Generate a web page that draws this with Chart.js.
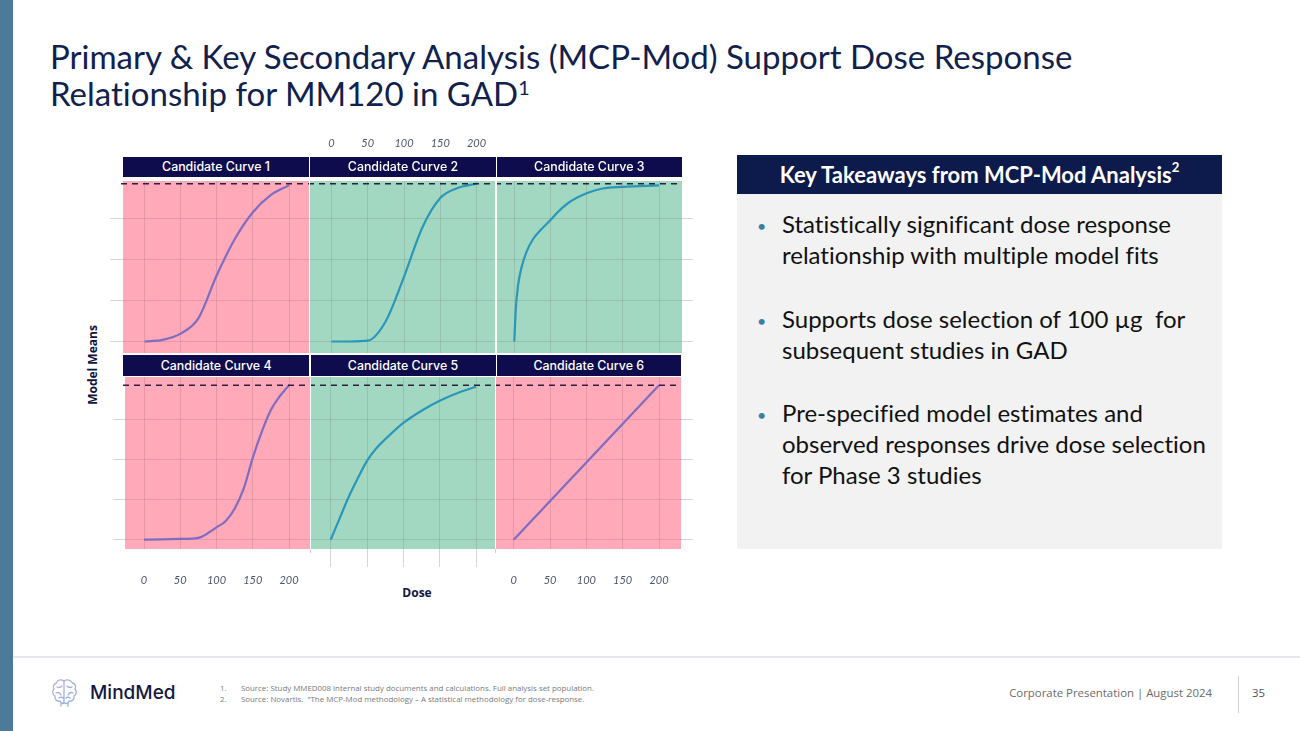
<!DOCTYPE html>
<html><head><meta charset="utf-8">
<script src="https://cdn.jsdelivr.net/npm/chart.js@4.4.1/dist/chart.umd.min.js"></script>
<style>
html,body{margin:0;padding:0}
body{width:1300px;height:731px;position:relative;background:#fff;overflow:hidden;font-family:'Lato',sans-serif;font-variant-ligatures:none}
.abs{position:absolute}
#leftbar{left:0;top:0;width:13px;height:731px;background:#4b7b99}
.title{left:50px;color:#10214d;font-size:33px;line-height:37px;white-space:nowrap}
.strip{background:#0f0c4d;color:#fff;font-family:'Inter',sans-serif;font-weight:500;font-size:12.4px;display:flex;align-items:center;justify-content:center;white-space:nowrap}
.pane{position:absolute}
.axtitle{color:#10133f;font-family:'Open Sans',sans-serif;font-weight:700;font-size:12px;white-space:nowrap}
#kthead{left:737px;top:155px;width:485px;height:39px;background:#0d1a4c;color:#fff;font-weight:700;font-size:22px;display:flex;align-items:center;justify-content:center;white-space:nowrap}
#ktbody{left:737px;top:194px;width:485px;height:355px;background:#f2f2f2}
.bul{left:782px;color:#111;font-size:24px;line-height:31px;white-space:nowrap}
.dot{left:757px;color:#3a7fa6;font-size:16px}
sup{font-size:60%;vertical-align:0;position:relative;top:-0.55em}
#footline{left:13px;top:656px;width:1287px;height:2px;background:#e6e7ea}
.fn{left:220px;font-size:7.9px;color:#7a7a7a;white-space:nowrap;font-family:'Open Sans',sans-serif}
.vdiv{width:1px;background:#d0d0d0}
</style></head><body>
<div id="leftbar" class="abs"></div>
<div class="abs title" style="top:38px">Primary &amp; Key Secondary Analysis (MCP-Mod) Support Dose Response</div>
<div class="abs title" style="top:75px">Relationship for MM120 in GAD<sup>1</sup></div>

<div id="panels"></div>
<div class="abs vdiv" style="left:310px;top:549px;height:4px"></div>
<div class="abs vdiv" style="left:495px;top:549px;height:4px"></div>
<div class="abs axtitle" style="left:92px;top:365px;transform:translate(-50%,-50%) rotate(-90deg)">Model Means</div>
<div class="abs axtitle" style="left:417px;top:592px;transform:translate(-50%,-50%)">Dose</div>

<div id="kthead" class="abs">Key Takeaways from MCP-Mod Analysis<sup>2</sup></div>
<div id="ktbody" class="abs"></div>
<div class="abs dot" style="top:216px">•</div>
<div class="abs bul" style="top:208px">Statistically significant dose response<br>relationship with multiple model fits</div>
<div class="abs dot" style="top:311px">•</div>
<div class="abs bul" style="top:303px">Supports dose selection of 100 µg&nbsp; for<br>subsequent studies in GAD</div>
<div class="abs dot" style="top:405px">•</div>
<div class="abs bul" style="top:397px">Pre-specified model estimates and<br>observed responses drive dose selection<br>for Phase 3 studies</div>

<div id="footline" class="abs"></div>
<svg class="abs" style="left:51px;top:678px" width="27" height="30" viewBox="0 0 27 30">
<defs><linearGradient id="g" x1="0" y1="0" x2="1" y2="1"><stop offset="0" stop-color="#c4a8e2"/><stop offset="1" stop-color="#7fb2e3"/></linearGradient></defs>
<g fill="none" stroke="url(#g)" stroke-width="1.3" stroke-linecap="round">
<path d="M13 3 C10 1 6 2 5.5 5 C2.5 5.5 1.5 9 3 11 C1 13 1.5 17 4 18 C3 21 6 24 9 23 C10 25.5 12 26 13 25"/>
<path d="M13 3 C16 1 20 2 21.5 5 C24.5 5.5 25.5 9 24 11 C26 13 25.5 17 23 18 C24 21 21 24 18 23 C17 25.5 15 26 14 25"/>
<path d="M13 3 V25 M6 9 C8 10 10 9 11 8 M21 9 C19 10 17 9 16 8 M5 15 C7 14 9 15 10 17 M22 15 C20 14 18 15 17 17 M8 20 C9 19 11 19 12 20 M19 20 C18 19 16 19 15 20"/>
<path d="M10 25 V28 M17 25 V28"/>
</g></svg>
<div class="abs" style="left:90px;top:681px;font-family:'Inter',sans-serif;font-weight:500;font-size:19px;color:#16193f">MindMed</div>
<div class="abs fn" style="top:683px">1.&nbsp;&nbsp;&nbsp;&nbsp;&nbsp;&nbsp;&nbsp;Source: Study MMED008 internal study documents and calculations. Full analysis set population.</div>
<div class="abs fn" style="top:694px">2.&nbsp;&nbsp;&nbsp;&nbsp;&nbsp;&nbsp;&nbsp;Source: Novartis.&nbsp; "The MCP-Mod methodology – A statistical methodology for dose-response.</div>
<div class="abs" style="right:88px;top:685px;font-family:'Open Sans',sans-serif;font-size:11.4px;color:#6b6b6b;white-space:nowrap">Corporate Presentation | August 2024</div>
<div class="abs" style="left:1238px;top:676px;width:1px;height:37px;background:#cfcfcf"></div>
<div class="abs" style="left:1252px;top:685px;font-family:'Open Sans',sans-serif;font-size:11.4px;color:#555">35</div>

<script>
// ---------- data ----------
const doseTicks = [0, 50, 100, 150, 200];
const meanGrid = [0, 0.26, 0.52, 0.78];
const targetMean = 1;
const curveTitles = ['Candidate Curve 1','Candidate Curve 2','Candidate Curve 3','Candidate Curve 4','Candidate Curve 5','Candidate Curve 6'];

const curve1Dose = [0, 25, 50, 75, 100, 125, 150, 175, 200];
const curve1Mean = [0, 0.01, 0.05, 0.15, 0.42, 0.65, 0.82, 0.93, 0.99];

const curve2Dose = [0, 25, 50, 75, 100, 125, 150, 175, 200];
const curve2Mean = [0, 0, 0.005, 0.13, 0.41, 0.72, 0.91, 0.975, 1.0];

const curve3Dose = [0, 2, 5, 10, 17, 26, 37, 50, 60, 75, 100, 122, 150, 200];
const curve3Mean = [0, 0.2, 0.35, 0.47, 0.57, 0.65, 0.71, 0.77, 0.82, 0.88, 0.94, 0.97, 0.98, 0.99];

const curve4Dose = [0, 25, 50, 75, 100, 112.5, 125, 137.5, 150, 162.5, 175, 187.5, 200];
const curve4Mean = [0, 0.002, 0.005, 0.012, 0.08, 0.12, 0.2, 0.33, 0.53, 0.7, 0.84, 0.93, 1.0];

const curve5Dose = [0, 12.5, 25, 37.5, 50, 62.5, 75, 100, 125, 150, 175, 200];
const curve5Mean = [0, 0.14, 0.28, 0.4, 0.51, 0.59, 0.65, 0.756, 0.835, 0.9, 0.95, 0.99];

const curve6Dose = [0, 200];
const curve6Mean = [0, 1];

const curveDoses = [curve1Dose, curve2Dose, curve3Dose, curve4Dose, curve5Dose, curve6Dose];
const curveMeans = [curve1Mean, curve2Mean, curve3Mean, curve4Mean, curve5Mean, curve6Mean];

// ---------- layout & style ----------
const PINK = '#ffa9b9', GREEN = '#a2d8c1', PURPLE = '#7e6dc1', TEAL = '#2a97b9';
const rows = [
  {top:180.5, bottom:352.5, zero:341, one:183.3, stripTop:156.5, stripH:20.5},
  {top:377.3, bottom:549.3, zero:540, one:385.5, stripTop:355, stripH:21}
];
// xTick: visible tick-mark length; xGap: invisible offset of labels from the panel
const panelLayout = [
  {row:0, left:123, right:309, x0:144.5, x200:289,   fill:PINK,  line:PURPLE, xPos:'bottom', xLab:false, xTick:0,  xGap:0,  xExt:0,  yPos:'left',  yTick:13},
  {row:0, left:310, right:495, x0:331.5, x200:476.5, fill:GREEN, line:TEAL,   xPos:'top',    xLab:true,  xTick:0,  xGap:31, xExt:46, yPos:'left',  yTick:0},
  {row:0, left:497, right:682, x0:514.3, x200:659,   fill:GREEN, line:TEAL,   xPos:'bottom', xLab:false, xTick:0,  xGap:0,  xExt:0,  yPos:'right', yTick:11},
  {row:1, left:125, right:310, x0:144,   x200:289,   fill:PINK,  line:PURPLE, xPos:'bottom', xLab:true,  xTick:0,  xGap:25, xExt:42, yPos:'left',  yTick:12},
  {row:1, left:311, right:495, x0:330.7, x200:476,   fill:GREEN, line:TEAL,   xPos:'bottom', xLab:false, xTick:18, xGap:0,  xExt:18, yPos:'left',  yTick:0},
  {row:1, left:496, right:681, x0:513.7, x200:659,   fill:PINK,  line:PURPLE, xPos:'bottom', xLab:true,  xTick:0,  xGap:25, xExt:42, yPos:'right', yTick:12}
];
const stripCols = [[[122.7,309.3],[310.3,495.7],[496.7,682]], [[122.7,309.5],[310.5,495.5],[496.5,681]]];

const panelsDiv = document.getElementById('panels');

curveTitles.forEach((t, i) => {
  const r = rows[Math.floor(i/3)], c = stripCols[Math.floor(i/3)][i%3];
  const d = document.createElement('div');
  d.className = 'abs strip';
  d.style.left = c[0]+'px'; d.style.width = (c[1]-c[0])+'px';
  d.style.top = r.stripTop+'px'; d.style.height = r.stripH+'px';
  d.textContent = t;
  document.body.appendChild(d);
});

const panelBg = {
  id:'panelBg',
  beforeDraw(chart, args, opts){
    const a = chart.chartArea, ctx = chart.ctx;
    ctx.save(); ctx.fillStyle = opts.color; ctx.fillRect(a.left, a.top, a.right-a.left, a.bottom-a.top); ctx.restore();
  }
};
const refLine = {
  id:'refLine',
  afterDatasetsDraw(chart){
    const a = chart.chartArea, ctx = chart.ctx;
    const y = chart.scales.y.getPixelForValue(targetMean);
    ctx.save(); ctx.strokeStyle = 'rgba(25,15,45,0.9)'; ctx.lineWidth = 1.4; ctx.setLineDash([6,5]);
    ctx.beginPath(); ctx.moveTo(a.left-2, y); ctx.lineTo(a.right, y); ctx.stroke(); ctx.restore();
  }
};

panelLayout.forEach((L, i) => {
  const R = rows[L.row];
  const pxX = (L.x200 - L.x0)/200;
  const xmin = -(L.x0 - L.left)/pxX, xmax = 200 + (L.right - L.x200)/pxX;
  const pxY = R.zero - R.one;
  const ymin = -(R.bottom - R.zero)/pxY, ymax = 1 + (R.one - R.top)/pxY;
  const extTop = L.xPos==='top' ? L.xExt : 0, extBottom = L.xPos==='bottom' ? L.xExt : 0;
  const extLeft = L.yPos==='left' ? L.yTick : 0, extRight = L.yPos==='right' ? L.yTick : 0;
  const wrap = document.createElement('div');
  wrap.className = 'pane';
  wrap.style.left = (L.left - extLeft)+'px';
  wrap.style.top = (R.top - extTop)+'px';
  wrap.style.width = (L.right - L.left + extLeft + extRight)+'px';
  wrap.style.height = (R.bottom - R.top + extTop + extBottom)+'px';
  const cv = document.createElement('canvas');
  wrap.appendChild(cv); panelsDiv.appendChild(wrap);
  const pts = curveDoses[i].map((d,k) => ({x:d, y:curveMeans[i][k]}));
  const tickLen = L.xTick > 0 ? L.xTick : L.xGap;
  new Chart(cv, {
    type:'line',
    data:{datasets:[{data:pts, borderColor:L.line, borderWidth:2.2, pointRadius:0, fill:false, cubicInterpolationMode:'monotone'}]},
    options:{
      responsive:true, maintainAspectRatio:false, animation:false,
      layout:{padding:0},
      plugins:{legend:{display:false}, tooltip:{enabled:false}, panelBg:{color:L.fill}},
      scales:{
        x:{type:'linear', position:L.xPos, min:xmin, max:xmax,
           afterBuildTicks:s=>{ s.ticks = doseTicks.map(v=>({value:v})); },
           afterFit:s=>{ s.height = L.xExt; s.paddingLeft = 0; s.paddingRight = 0; },
           ticks:{display:L.xLab, padding:0, autoSkip:false, maxRotation:0,
                  font:{family:'Lato', style:'italic', size:11}, color:'#50546a'},
           grid:{color:'rgba(90,60,80,0.15)', drawTicks:tickLen>0, tickLength:tickLen,
                 tickColor: L.xTick>0 ? '#d6d6d6' : 'rgba(0,0,0,0)'},
           border:{display:false}},
        y:{type:'linear', position:L.yPos, min:ymin, max:ymax,
           afterBuildTicks:s=>{ s.ticks = meanGrid.map(v=>({value:v})); },
           afterFit:s=>{ s.width = L.yTick; s.paddingTop = 0; s.paddingBottom = 0; },
           ticks:{display:false},
           grid:{color:'rgba(90,60,80,0.15)', drawTicks:L.yTick>0, tickLength:L.yTick, tickColor:'#d6d6d6'},
           border:{display:false}}
      }
    },
    plugins:[panelBg, refLine]
  });
});
</script>
</body></html>
